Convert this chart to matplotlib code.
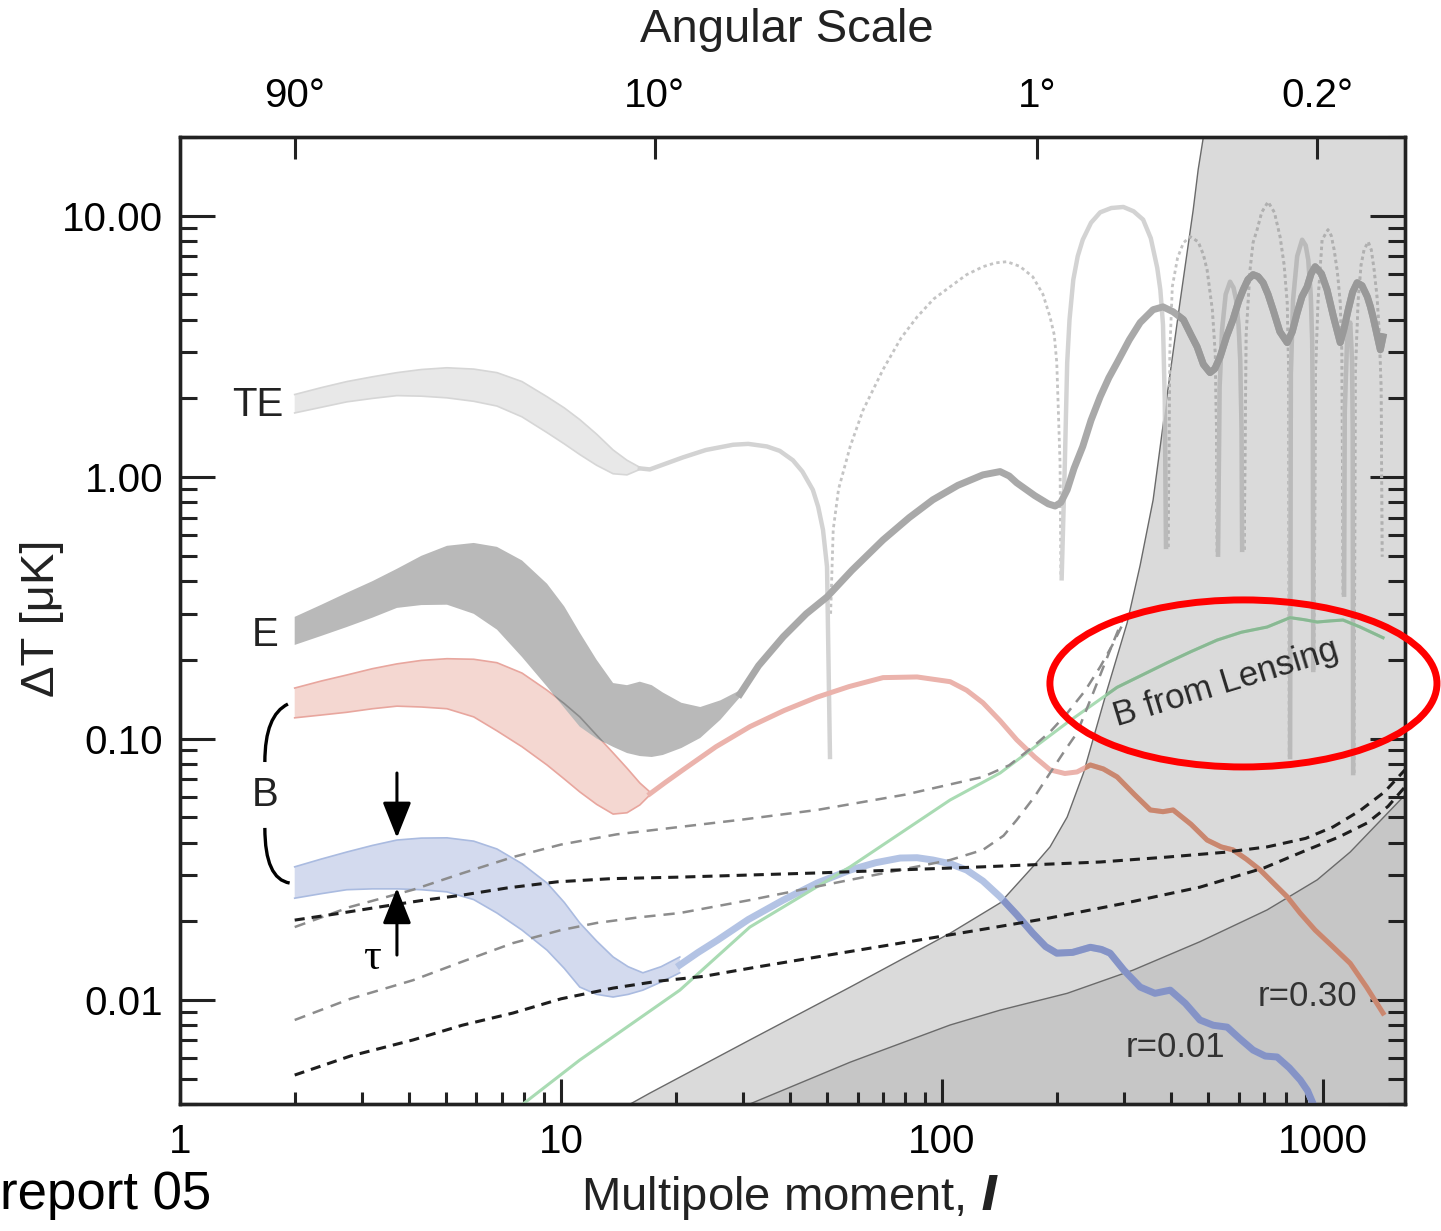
import numpy as np
import matplotlib
matplotlib.use("Agg")
import matplotlib.pyplot as plt
from matplotlib.patches import Ellipse, Polygon, PathPatch
from matplotlib.path import Path
from matplotlib.ticker import NullFormatter, NullLocator

plt.rcParams['font.family'] = ['Liberation Sans', 'DejaVu Sans']

# === Axis ranges and ticks ===
l_range = (1, 1640)
v_range = (0.004, 20)
l_ticks = [1, 10, 100, 1000]
l_ticklabels = ['1', '10', '100', '1000']
v_ticks = [0.01, 0.1, 1, 10]
v_ticklabels = ['0.01', '0.10', '1.00', '10.00']
ang_ticks = [2.0, 17.6, 178, 965]
ang_labels = ['90°', '10°', '1°', '0.2°']

# common multipoles of the low-l bands
band_l = [2.0, 2.35, 2.74, 3.2, 3.71, 4.3, 5.02, 5.9, 6.79, 7.9, 9.19, 10.2, 11.2, 12.4, 13.7, 14.9, 16.1]

# === TE ===
te_band_hi = [2.07, 2.20, 2.32, 2.42, 2.51, 2.58, 2.62, 2.59, 2.51, 2.32, 2.03, 1.84, 1.66, 1.46, 1.27, 1.16, 1.09]
te_band_lo = [1.76, 1.85, 1.94, 2.00, 2.05, 2.04, 2.01, 1.95, 1.87, 1.70, 1.48, 1.34, 1.22, 1.11, 1.03, 1.02, 1.07]

te_pos1_l = [16.1, 17.1, 20.9, 24.0, 28.3, 31.0, 34.7, 37.5, 40.6, 43.0, 45.8, 47.3, 48.7, 49.9, 50.8]
te_pos1_v = [1.08, 1.07, 1.19, 1.27, 1.33, 1.34, 1.31, 1.26, 1.16, 1.05, 0.894, 0.77, 0.628, 0.454, 0.085]
te_pos2_l = [206, 210, 213, 216, 221, 227, 234, 246, 260, 278, 299, 318, 337, 353, 367, 374, 380, 384, 387]
te_pos2_v = [0.41, 1.13, 2.74, 4.0, 5.69, 7.0, 8.09, 9.4, 10.3, 10.7, 10.8, 10.4, 9.66, 8.2, 6.32, 5.2, 3.83, 2.0, 0.541]
te_pos3_l = [530, 535, 543, 555, 570, 582, 591, 600, 606, 611, 613]
te_pos3_v = [0.505, 2.2, 3.66, 5.0, 5.59, 5.3, 4.77, 3.8, 2.81, 1.5, 0.527]
te_pos4_l = [819, 823, 834, 855, 881, 900, 914, 928, 936, 940, 942]
te_pos4_v = [0.085, 2.5, 4.77, 7.0, 8.09, 7.7, 6.79, 5.0, 3.35, 1.5, 0.183]
te_pos5_l = [1135, 1140, 1156, 1178, 1191, 1196, 1199]
te_pos5_v = [0.355, 1.8, 3.35, 3.90, 2.81, 1.5, 0.0738]

te_neg1_l = [51.0, 51.8, 53.5, 57.4, 62.0, 70.0, 78.0, 86.0, 95.0, 105, 116, 128, 138, 148, 160, 173, 184,
             192, 197, 200, 204, 205]
te_neg1_v = [0.30, 0.63, 0.90, 1.31, 1.80, 2.58, 3.40, 4.10, 4.80, 5.35, 5.95, 6.38, 6.60, 6.67, 6.40, 5.84,
             5.00, 4.10, 3.50, 2.74, 1.13, 0.415]
te_neg2_l = [392, 396, 402, 415, 430, 448, 470, 485, 496, 512, 521, 525, 527]
te_neg2_v = [0.54, 3.0, 5.35, 6.9, 7.88, 8.31, 7.95, 7.1, 6.21, 4.37, 2.99, 1.5, 0.50]
te_neg3_l = [621, 628, 643, 655, 671, 690, 717, 745, 771, 790, 805, 812, 815]
te_neg3_v = [0.527, 3.5, 6.21, 7.9, 8.84, 10.3, 11.3, 10.3, 8.31, 6.5, 4.65, 2.5, 0.085]
te_neg4_l = [947, 955, 970, 994, 1030, 1050, 1069, 1090, 1109, 1120, 1128]
te_neg4_v = [0.183, 2.5, 4.77, 8.09, 8.84, 8.4, 7.41, 6.1, 4.65, 3.0, 0.355]
te_neg5_l = [1206, 1215, 1236, 1258, 1281, 1313, 1338, 1361, 1385, 1403, 1420, 1429]
te_neg5_v = [0.0738, 2.5, 4.77, 6.5, 7.41, 7.95, 7.4, 6.21, 4.9, 3.66, 2.2, 0.496]

# === E ===
e_band_l = band_l + [17.3, 18.5, 20.7, 23.2, 26.2, 29.5]
e_band_hi = [0.292, 0.325, 0.361, 0.40, 0.446, 0.50, 0.546, 0.56, 0.541, 0.48, 0.391, 0.32, 0.254, 0.20,
             0.163, 0.160, 0.165, 0.160, 0.150, 0.137, 0.132, 0.140, 0.153]
e_band_lo = [0.228, 0.247, 0.267, 0.29, 0.316, 0.324, 0.325, 0.30, 0.261, 0.205, 0.158, 0.131, 0.111, 0.10,
             0.0929, 0.088, 0.0857, 0.085, 0.0865, 0.092, 0.1005, 0.118, 0.144]
e_line_l = [29.5, 33, 38.3, 44, 49.9, 58, 70, 82, 94.6, 110, 128, 142, 150, 157, 175, 190, 198, 205, 213,
            222, 234, 246, 260, 274, 288, 310, 331, 358, 380, 404, 430, 450, 467, 485, 505, 520, 537, 558,
            580, 600, 617, 635, 655, 675, 696, 717, 739, 770, 805, 830, 855, 880, 908, 930, 953, 990, 1024,
            1065, 1109, 1135, 1164, 1195, 1228, 1265, 1306, 1330, 1352, 1385, 1413, 1436]
e_line_v = [0.148, 0.19, 0.245, 0.30, 0.348, 0.44, 0.575, 0.70, 0.819, 0.93, 1.02, 1.05, 1.01, 0.951, 0.85,
            0.79, 0.775, 0.80, 0.894, 1.08, 1.31, 1.65, 2.03, 2.40, 2.74, 3.35, 3.90, 4.37, 4.48, 4.29, 4.00,
            3.5, 3.15, 2.7, 2.51, 2.6, 2.89, 3.45, 4.00, 4.7, 5.21, 5.7, 5.95, 5.85, 5.54, 5.0, 4.37, 3.6,
            3.27, 3.6, 4.25, 4.9, 5.35, 6.0, 6.38, 6.0, 5.21, 4.1, 3.27, 3.7, 4.37, 5.1, 5.54, 5.4, 4.90,
            4.5, 4.10, 3.5, 3.07, 3.44]

# === B, r = 0.30 ===
b30_band_l = band_l + [17.1]
b30_band_hi = [0.156, 0.166, 0.175, 0.185, 0.193, 0.199, 0.202, 0.201, 0.195, 0.178, 0.153, 0.136, 0.121,
               0.103, 0.0881, 0.077, 0.0676, 0.0625]
b30_band_lo = [0.120, 0.123, 0.126, 0.130, 0.133, 0.132, 0.130, 0.121, 0.107, 0.093, 0.0792, 0.070, 0.0625,
               0.056, 0.0514, 0.0520, 0.0557, 0.0608]
b30_line_l = [17.1, 18.8, 20.9, 25.5, 31.3, 38.5, 47, 57, 70, 86, 105, 116, 128, 142, 157, 175, 192, 210,
              226, 245, 265, 288, 320, 352, 380, 404, 450, 496, 540, 580, 630, 684, 740, 805, 870, 953, 1050,
              1178, 1300, 1436]
b30_line_v = [0.0614, 0.068, 0.0759, 0.093, 0.111, 0.128, 0.144, 0.158, 0.171, 0.172, 0.165, 0.153, 0.137,
              0.117, 0.0989, 0.085, 0.0759, 0.0735, 0.0745, 0.0792, 0.0765, 0.0713, 0.061, 0.0533, 0.0525,
              0.0533, 0.047, 0.0409, 0.0385, 0.0375, 0.0345, 0.0314, 0.028, 0.0248, 0.0215, 0.0185, 0.0162,
              0.0138, 0.0112, 0.00891]

# === B, r = 0.01 ===
b01_band_l = band_l[:-2] + [15.0, 16.4, 18.3, 20.5]
b01_band_hi = [0.0323, 0.0346, 0.0368, 0.039, 0.0409, 0.0416, 0.0417, 0.0405, 0.0378, 0.0332, 0.0280,
               0.0236, 0.0197, 0.0168, 0.0146, 0.0134, 0.0127, 0.0134, 0.0146]
b01_band_lo = [0.0245, 0.0255, 0.0264, 0.0266, 0.0266, 0.0264, 0.0259, 0.0242, 0.0215, 0.0185, 0.0155,
               0.0132, 0.0112, 0.0105, 0.01026, 0.0105, 0.0109, 0.0117, 0.0127]
b01_line_l = [20.5, 22.9, 25.7, 31, 38.3, 47, 57.4, 67, 77.6, 86, 94.6, 105, 116, 128, 142, 157, 173, 187,
              200, 220, 245, 262, 276, 300, 331, 362, 397, 435, 475, 515, 560, 605, 655, 705, 757, 815, 871,
              910, 942]
b01_line_v = [0.0136, 0.0152, 0.0169, 0.0203, 0.0241, 0.0280, 0.0314, 0.0335, 0.0349, 0.0350, 0.0343, 0.0332,
              0.0314, 0.0285, 0.0248, 0.0212, 0.0180, 0.0160, 0.0151, 0.0152, 0.0159, 0.0156, 0.0151, 0.0130,
              0.0112, 0.0106, 0.0109, 0.0097, 0.00838, 0.0080, 0.00787, 0.0071, 0.00643, 0.0061, 0.00605,
              0.0055, 0.00494, 0.0045, 0.0040]

# === B from lensing ===
lens_l = [7.95, 11.2, 20.5, 31.3, 57.4, 105, 142, 213, 288, 390, 450, 527, 610, 713, 819, 890, 965, 1050,
          1128, 1251, 1436]
lens_v = [0.0040, 0.00589, 0.0109, 0.0190, 0.0323, 0.0582, 0.0738, 0.115, 0.157, 0.195, 0.215, 0.238, 0.255,
          0.267, 0.290, 0.285, 0.279, 0.282, 0.284, 0.267, 0.243]

# === Foreground / noise regions ===
fg_l = [15.2, 17.1, 31.3, 57.4, 105, 142, 173, 192, 213, 235, 271, 306, 331, 358, 387, 421, 456, 470, 485]
fg_v = [0.0040, 0.0044, 0.00703, 0.0112, 0.0180, 0.0235, 0.0323, 0.0385, 0.0501, 0.0738,
        0.153, 0.277, 0.46, 0.818, 1.92, 4.65, 10.5, 15.0, 20.0]
fg2_l = [31.3, 57.4, 105, 142, 213, 317, 475, 713, 965, 1178, 1640]
fg2_v = [0.0040, 0.00578, 0.00802, 0.00914, 0.0106, 0.0130, 0.0167, 0.0221, 0.0288, 0.0368, 0.0608]

# === Dashed foreground curves ===
dashA_l = [2.0, 2.6, 3.35, 4.3, 5.53, 7.2, 9.77, 13.5, 20.5, 47, 128, 260, 390, 550, 713, 900, 1062, 1250,
           1450, 1640]
dashA_v = [0.0202, 0.0214, 0.0227, 0.024, 0.0252, 0.0268, 0.0283, 0.0291, 0.0295, 0.0306, 0.0323, 0.0337,
           0.0352, 0.0367, 0.0385, 0.0415, 0.0459, 0.053, 0.0625, 0.0759]
dashB_l = [2.0, 2.8, 4.09, 5.5, 7.48, 10, 13.7, 18, 23.6, 33, 47, 86, 130, 192, 300, 475, 700, 908, 1100,
           1304, 1480, 1640]
dashB_v = [0.00516, 0.0061, 0.00703, 0.0080, 0.00891, 0.0101, 0.0111, 0.0118, 0.0123, 0.0134, 0.0146, 0.0169,
           0.0187, 0.0206, 0.0234, 0.0270, 0.0320, 0.0375, 0.042, 0.0475, 0.055, 0.0653]
dashC_l = [2.0, 2.8, 4.09, 5.5, 7.48, 10, 14, 20.5, 30, 47, 80, 128, 150, 173, 192, 213, 237, 260, 280, 299]
dashC_v = [0.0190, 0.0227, 0.0264, 0.0305, 0.0352, 0.0393, 0.043, 0.0459, 0.049, 0.0533, 0.061, 0.0713,
           0.079, 0.0929, 0.106, 0.125, 0.152, 0.188, 0.228, 0.277]
dashD_l = [2.0, 2.8, 4.09, 5.5, 7.48, 10, 12.4, 16, 20.5, 31.3, 57.4, 105, 128, 145, 157, 175, 192, 210,
           226, 249, 276, 299]
dashD_v = [0.00838, 0.0101, 0.0119, 0.0140, 0.0165, 0.0185, 0.0197, 0.0207, 0.0215, 0.0241, 0.0288, 0.0343,
           0.0375, 0.0425, 0.0488, 0.060, 0.0738, 0.090, 0.105, 0.149, 0.218, 0.290]

# === Plot ===
fig = plt.figure(figsize=(14.41, 12.31), dpi=100)
ax = fig.add_axes([0.1249, 0.1032, 0.8501, 0.7855])
ax.set_xscale('log')
ax.set_yscale('log')
ax.set_xlim(l_range)
ax.set_ylim(v_range)

# shaded regions
fg_patch = Polygon(list(zip(fg_l + [l_range[1], l_range[1]], fg_v + [v_range[1], v_range[0]])),
                   closed=True, facecolor='#dadada', edgecolor='none', zorder=0.5)
ax.add_patch(fg_patch)
ax.fill_between(fg2_l, v_range[0], fg2_v, facecolor='#c6c6c6', edgecolor='none', zorder=0.6)
ax.plot(fg_l, fg_v, color='#6a6a6a', lw=1.0, zorder=0.7)
ax.plot(fg2_l, fg2_v, color='#6a6a6a', lw=1.0, zorder=0.7)


def band(l, lo, hi, fc, ec, z):
    poly = ax.fill_between(l, lo, hi, facecolor=fc, edgecolor='none', zorder=z)
    if ec:
        ax.plot(l, hi, color=ec, lw=1.2, zorder=z)
        ax.plot(l, lo, color=ec, lw=1.2, zorder=z)
    return poly


def curve(l, v, c_out, c_in, lw, z, **kw):
    ax.plot(l, v, color=c_out, lw=lw, zorder=z, solid_joinstyle='round', **kw)
    dark, = ax.plot(l, v, color=c_in, lw=lw, zorder=z + 0.01, solid_joinstyle='round', **kw)
    dark.set_clip_path(fg_patch)


# TE
band(band_l, te_band_lo, te_band_hi, '#e8e8e8', '#d6d6d6', 1.5)
for l, v in [(te_pos1_l, te_pos1_v), (te_pos2_l, te_pos2_v), (te_pos3_l, te_pos3_v),
             (te_pos4_l, te_pos4_v), (te_pos5_l, te_pos5_v)]:
    curve(l, v, '#d3d3d3', '#bababa', 3.2, 1.6)
for l, v in [(te_neg1_l, te_neg1_v), (te_neg2_l, te_neg2_v), (te_neg3_l, te_neg3_v),
             (te_neg4_l, te_neg4_v), (te_neg5_l, te_neg5_v)]:
    curve(l, v, '#c4c4c4', '#b0b0b0', 2.0, 1.55, dashes=(1.2, 1.2))

# B r=0.30 band, then E band on top
band(b30_band_l, b30_band_lo, b30_band_hi, '#f4d7d1', '#e8a69e', 2.0)
e_poly = band(e_band_l, e_band_lo, e_band_hi, '#b9b9b9', None, 2.2)
edge, = ax.plot(b30_band_l, b30_band_hi, color='#8c8c8c', lw=1.2, zorder=2.3)
edge.set_clip_path(e_poly.get_paths()[0], e_poly.get_transform())
curve(e_line_l, e_line_v, '#a9a9a9', '#999999', 5.0, 2.4)

# B r=0.01 band
band(b01_band_l, b01_band_lo, b01_band_hi, '#d3daee', '#aabbe0', 2.5)

# B lines and lensing
curve(b30_line_l, b30_line_v, '#ebb3ac', '#c9876f', 3.6, 3.0)
curve(b01_line_l, b01_line_v, '#b3c3e4', '#8593c6', 5.0, 3.0)
curve(lens_l, lens_v, '#a9dbb3', '#89b893', 2.2, 3.1)

# dashed foreground curves
ax.plot(dashC_l, dashC_v, color='#8c8c8c', lw=1.8, dashes=(4.5, 3.2), zorder=4)
ax.plot(dashD_l, dashD_v, color='#8c8c8c', lw=1.8, dashes=(4.5, 3.2), zorder=4)
ax.plot(dashA_l, dashA_v, color='#1e1e1e', lw=2.2, dashes=(3.3, 2.3), zorder=4.1)
ax.plot(dashB_l, dashB_v, color='#1e1e1e', lw=2.2, dashes=(3.3, 2.3), zorder=4.1)

# labels inside the plot
ax.text(1.60, 1.89, 'TE', fontsize=29, ha='center', va='center', color='#222222', zorder=5)
ax.text(1.67, 0.249, 'E', fontsize=29, ha='center', va='center', color='#222222', zorder=5)
ax.text(1.67, 0.0608, 'B', fontsize=29, ha='center', va='center', color='#222222', zorder=5)
ax.text(908, 0.0103, 'r=0.30', fontsize=25, ha='center', va='center', color='#333333', zorder=5)
ax.text(409, 0.0066, 'r=0.01', fontsize=25, ha='center', va='center', color='#333333', zorder=5)
ax.text(556, 0.163, 'B from Lensing', fontsize=25, ha='center', va='center', color='#2a2a2a',
        rotation=17, rotation_mode='anchor', zorder=5)
ax.text(3.19, 0.01445, 'τ', fontsize=32, ha='center', va='center', color='black',
        family=['Liberation Serif', 'DejaVu Serif'], zorder=5)

# tau arrows
arrow_l = 3.71
ax.annotate('', xy=(arrow_l, 0.0417), xytext=(arrow_l, 0.0738),
            arrowprops=dict(arrowstyle='-|>,head_length=0.55,head_width=0.22', color='black',
                            lw=2.2, mutation_scale=40, shrinkA=0, shrinkB=0), zorder=5)
ax.annotate('', xy=(arrow_l, 0.0268), xytext=(arrow_l, 0.01485),
            arrowprops=dict(arrowstyle='-|>,head_length=0.55,head_width=0.22', color='black',
                            lw=2.2, mutation_scale=40, shrinkA=0, shrinkB=0), zorder=5)

# brace around B
brace_top = [(1.92, 0.1355), (1.67, 0.123), (1.67, 0.0813)]
brace_bot = [(1.67, 0.0455), (1.67, 0.0290), (1.94, 0.0280)]
for pts in (brace_top, brace_bot):
    ax.add_patch(PathPatch(Path(pts, [Path.MOVETO, Path.CURVE3, Path.CURVE3]),
                           fill=False, lw=2.4, color='black', zorder=5))

# ticks
ax.set_xticks(l_ticks)
ax.set_xticklabels(l_ticklabels)
ax.set_yticks(v_ticks)
ax.set_yticklabels(v_ticklabels)
ax.yaxis.set_minor_formatter(NullFormatter())
ax.xaxis.set_minor_formatter(NullFormatter())
ax.tick_params(which='both', direction='in', top=False, right=True, width=2.2, color='#222222')
ax.tick_params(axis='x', which='major', length=18, pad=14, labelsize=29)
ax.tick_params(axis='x', which='minor', length=9)
ax.tick_params(axis='y', which='major', length=25, pad=12, labelsize=29)
ax.tick_params(axis='y', which='minor', length=12)

ax2 = ax.twiny()
ax2.set_xscale('log')
ax2.set_xlim(l_range)
ax2.set_xticks(ang_ticks)
ax2.set_xticklabels(ang_labels)
ax2.xaxis.set_minor_locator(NullLocator())
ax2.tick_params(axis='x', direction='in', length=16, width=2.2, pad=16, labelsize=29, color='#222222')

for a in (ax, ax2):
    for s in a.spines.values():
        s.set_linewidth(2.4)
        s.set_color('#222222')

# axis titles
fig.text(0.546, 0.9756, 'Angular Scale', fontsize=34, ha='center', va='center', color='#222222')
fig.text(0.548, 0.027, r'Multipole moment, $\boldsymbol{l}$', fontsize=34, ha='center',
         va='center', color='#222222')
fig.text(0.029, 0.498, 'ΔT [μK]', fontsize=34, rotation=90, ha='center', va='center', color='#222222')
fig.text(0.0, 0.0292, 'report 05', fontsize=38, ha='left', va='center', color='black')

# highlight ellipse
fig.add_artist(Ellipse((0.8629, 0.4448), 0.2686, 0.1357, transform=fig.transFigure,
                       fill=False, edgecolor='red', lw=5, zorder=10))

plt.savefig('out.png', dpi=100)
